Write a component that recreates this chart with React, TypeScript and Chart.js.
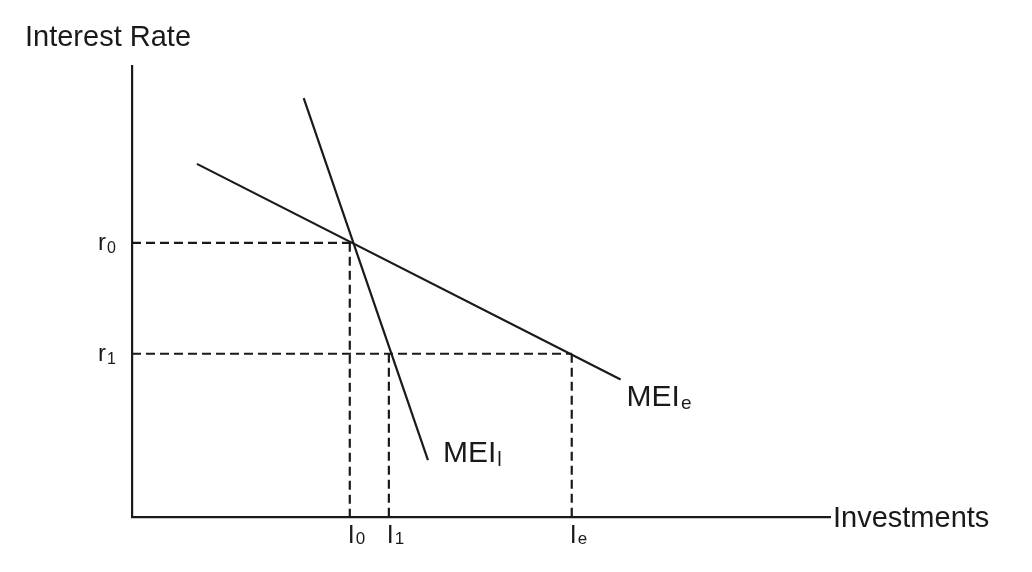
import React, { useEffect, useRef } from "react";
import { Chart, registerables } from "chart.js";

Chart.register(...registerables);

// Curves (x = investment, y = interest rate), abstract units 0..10
const meiElasticX = [0.93, 7.0];
const meiElasticY = [7.83, 3.05];
const meiInelasticX = [2.46, 4.24];
const meiInelasticY = [9.29, 1.26];

// Reference levels
const rateValues = [6.08, 3.62];
const rateLabels = [["r", "0"], ["r", "1"]];
const investValues = [3.12, 3.68, 6.3];
const investLabels = [["I", "0"], ["I", "1"], ["I", "e"]];

const curveLabels = [["MEI", "e"], ["MEI", "l"]];

const FONT = '"Liberation Sans", Arial, Helvetica, sans-serif';
const INK = "#1a1a1a";

function drawSub(
  ctx: CanvasRenderingContext2D,
  x: number,
  y: number,
  main: string,
  sub: string,
  mainSize: number,
  subSize: number,
  subDy: number,
  align: "left" | "right" | "center"
) {
  ctx.font = `${mainSize}px ${FONT}`;
  const mw = ctx.measureText(main).width;
  ctx.font = `${subSize}px ${FONT}`;
  const sw = ctx.measureText(sub).width;
  const total = mw + 1 + sw;
  let left = x;
  if (align === "right") left = x - total;
  if (align === "center") left = x - total / 2;
  ctx.textAlign = "left";
  ctx.textBaseline = "alphabetic";
  ctx.font = `${mainSize}px ${FONT}`;
  ctx.fillText(main, left, y);
  ctx.font = `${subSize}px ${FONT}`;
  ctx.fillText(sub, left + mw + 1, y + subDy);
}

const labelPlugin = {
  id: "econLabels",
  afterDraw(chart: any) {
    const ctx: CanvasRenderingContext2D = chart.ctx;
    const xs = chart.scales.x;
    const ys = chart.scales.y;
    const area = chart.chartArea;
    ctx.save();
    ctx.fillStyle = INK;

    // Axis titles
    ctx.font = `29px ${FONT}`;
    ctx.textAlign = "left";
    ctx.textBaseline = "alphabetic";
    ctx.fillText("Interest Rate", 25, 46);
    ctx.fillText("Investments", area.right + 3, area.bottom + 10);

    // Rate tick labels
    rateValues.forEach((v, i) => {
      const py = ys.getPixelForValue(v);
      drawSub(ctx, area.left - 16, py + 7, rateLabels[i][0], rateLabels[i][1], 24, 16, 3, "right");
    });

    // Investment tick labels
    investValues.forEach((v, i) => {
      const px = xs.getPixelForValue(v);
      drawSub(ctx, px - 2, area.bottom + 26, investLabels[i][0], investLabels[i][1], 25, 17, 1, "left");
    });

    // Curve labels
    const eEndX = xs.getPixelForValue(meiElasticX[1]);
    const eEndY = ys.getPixelForValue(meiElasticY[1]);
    drawSub(ctx, eEndX + 6, eEndY + 27, curveLabels[0][0], curveLabels[0][1], 30, 19, 3, "left");
    const lEndX = xs.getPixelForValue(meiInelasticX[1]);
    const lEndY = ys.getPixelForValue(meiInelasticY[1]);
    drawSub(ctx, lEndX + 15, lEndY + 2, curveLabels[1][0], curveLabels[1][1], 30, 20, 4, "left");

    ctx.restore();
  },
};

export default function App() {
  const ref = useRef<HTMLCanvasElement | null>(null);

  useEffect(() => {
    if (!ref.current) return;
    const solid = { borderColor: INK, borderWidth: 2.2, pointRadius: 0, showLine: true, fill: false };
    const dashed = { ...solid, borderDash: [9, 5], borderWidth: 2.2 };

    const datasets: any[] = [
      {
        ...solid,
        label: "MEIe",
        data: meiElasticX.map((x, i) => ({ x, y: meiElasticY[i] })),
      },
      {
        ...solid,
        label: "MEIl",
        data: meiInelasticX.map((x, i) => ({ x, y: meiInelasticY[i] })),
      },
      // r0 horizontal to intersection, I0 vertical
      { ...dashed, data: [{ x: 0, y: rateValues[0] }, { x: 3.18, y: rateValues[0] }] },
      { ...dashed, data: [{ x: investValues[0], y: rateValues[0] }, { x: investValues[0], y: 0 }] },
      // r1 horizontal to elastic curve, I1 and Ie verticals
      { ...dashed, data: [{ x: 0, y: rateValues[1] }, { x: investValues[2], y: rateValues[1] }] },
      { ...dashed, data: [{ x: investValues[1], y: rateValues[1] }, { x: investValues[1], y: 0 }] },
      { ...dashed, data: [{ x: investValues[2], y: rateValues[1] }, { x: investValues[2], y: 0 }] },
    ];

    const axis = {
      type: "linear" as const,
      min: 0,
      max: 10,
      grid: { display: false, drawTicks: false },
      ticks: { display: false },
      border: { display: true, color: INK, width: 2.2 },
    };

    const chart = new Chart(ref.current, {
      type: "scatter",
      data: { datasets },
      options: {
        animation: false,
        responsive: false,
        maintainAspectRatio: false,
        layout: { padding: { left: 132, top: 66, right: 202, bottom: 55 } },
        plugins: { legend: { display: false }, tooltip: { enabled: false } },
        scales: { x: axis, y: axis },
      },
      plugins: [labelPlugin],
    });
    return () => chart.destroy();
  }, []);

  return (
    <div style={{ position: "fixed", left: 0, top: 0, width: 1032, height: 572, background: "#fff" }}>
      <canvas ref={ref} width={1032} height={572} style={{ width: 1032, height: 572 }} />
    </div>
  );
}
